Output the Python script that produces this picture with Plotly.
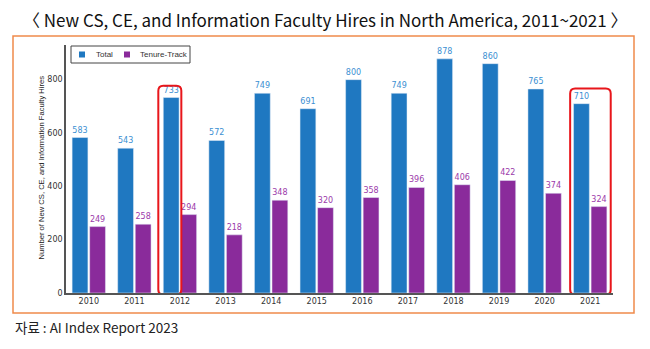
import plotly.graph_objects as go

years = ["2010", "2011", "2012", "2013", "2014", "2015", "2016", "2017", "2018", "2019", "2020", "2021"]
total = [583, 543, 733, 572, 749, 691, 800, 749, 878, 860, 765, 710]
tenure_track = [249, 258, 294, 218, 348, 320, 358, 396, 406, 422, 374, 324]
highlight_years = ["2012", "2021"]

BLUE = "#1f78c1"
PURPLE = "#8a2b9b"
W, H = 650, 349
L, R, T, B = 66, 37, 45, 56
YMAX = 930

x_idx = list(range(len(years)))

fig = go.Figure()
fig.add_bar(
    x=x_idx, y=total, name="Total", marker_color=BLUE,
    text=[str(v) for v in total], textposition="outside",
    textfont=dict(color="#3b8fd2", size=8, family="DejaVu Sans"),
    cliponaxis=False, showlegend=False,
)
fig.add_bar(
    x=x_idx, y=tenure_track, name="Tenure-Track", marker_color=PURPLE,
    text=[str(v) for v in tenure_track], textposition="outside",
    textfont=dict(color="#9b3aaa", size=8, family="DejaVu Sans"),
    cliponaxis=False, showlegend=False,
)

pw, ph = W - L - R, H - T - B


def px_to_paper(px, py):
    return (px - L) / pw, (H - B - py) / ph


def prect(x0, y0, x1, y1, **kw):
    ax, ay = px_to_paper(x0, y1)
    bx, by = px_to_paper(x1, y0)
    return dict(type="rect", xref="paper", yref="paper", x0=ax, y0=ay, x1=bx, y1=by, **kw)


shapes = []
# orange frame around the chart
shapes.append(prect(13, 36, 634, 313, line=dict(color="#f08a4b", width=1.5), layer="below"))

# legend box and swatches
shapes.append(prect(71, 46, 190, 63, line=dict(color="#444444", width=1), fillcolor="white"))
shapes.append(prect(79, 51.5, 85, 57.5, line=dict(width=0), fillcolor=BLUE))
shapes.append(prect(124, 51.5, 130, 57.5, line=dict(width=0), fillcolor=PURPLE))

# rounded red boxes around highlighted years' total bars
ux = pw / len(years)        # pixels per category
uy = ph / YMAX              # pixels per value unit
rad = 5
for yr in highlight_years:
    i = years.index(yr)
    x0 = i - 0.475 if yr == "2012" else i - 0.44
    x1 = i + 0.03 if yr == "2012" else i + 0.45
    y0 = -6
    y1 = total[i] + (44 if yr == "2012" else 57)
    rx, ry = rad / ux, rad / uy
    path = (f"M {x0+rx},{y0} L {x1-rx},{y0} Q {x1},{y0} {x1},{y0+ry} "
            f"L {x1},{y1-ry} Q {x1},{y1} {x1-rx},{y1} "
            f"L {x0+rx},{y1} Q {x0},{y1} {x0},{y1-ry} "
            f"L {x0},{y0+ry} Q {x0},{y0} {x0+rx},{y0} Z")
    shapes.append(dict(type="path", xref="x", yref="y", path=path,
                       line=dict(color="#e8161b", width=2)))


def pnote(text, px, py, anchor="left", size=8, family="DejaVu Sans", color="#333333", angle=0):
    ax, ay = px_to_paper(px, py)
    return dict(text=text, xref="paper", yref="paper", x=ax, y=ay,
                xanchor=anchor, yanchor="middle", showarrow=False, textangle=angle,
                font=dict(family=family, size=size, color=color))


fig.update_layout(
    width=W, height=H,
    margin=dict(l=L, r=R, t=T, b=B),
    paper_bgcolor="white", plot_bgcolor="white",
    barmode="group", bargap=0.23, bargroupgap=0.1,
    font=dict(family="DejaVu Sans", size=8, color="#333333"),
    xaxis=dict(
        tickmode="array", tickvals=x_idx, ticktext=years,
        range=[-0.5, len(years) - 0.5],
        showline=True, linecolor="#555555", linewidth=1.5,
        showgrid=False, ticks="", zeroline=False,
        tickfont=dict(size=8, color="#333333"),
    ),
    yaxis=dict(
        range=[0, YMAX], tickvals=[0, 200, 400, 600, 800],
        showline=True, linecolor="#555555", linewidth=1.5,
        showgrid=False, zeroline=False, ticks="",
        tickfont=dict(size=8, color="#333333"),
    ),
    shapes=shapes,
    annotations=[
        pnote("〈 New CS, CE, and Information Faculty Hires in North America, 2011~2021 〉",
              325, 20, anchor="center", size=17, family="Noto Sans CJK KR", color="#111111"),
        pnote("자료 : AI Index Report 2023", 13, 327, size=13.5, family="Noto Sans CJK KR",
              color="#222222"),
        pnote("Number of New CS, CE, and Information Faculty Hires", 40.5, 168,
              anchor="center", size=7.6, family="Liberation Sans", color="#222222", angle=-90),
        pnote("Total", 94, 54.5, size=8, family="Liberation Sans"),
        pnote("Tenure-Track", 138, 54.5, size=8, family="Liberation Sans"),
    ],
)

fig.write_html("out.html")
